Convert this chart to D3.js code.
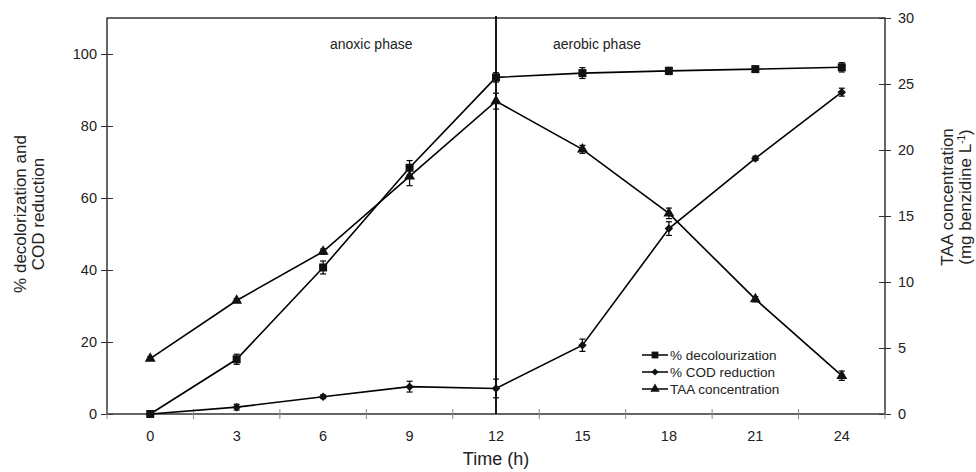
<!DOCTYPE html>
<html><head><meta charset="utf-8">
<script src="https://cdn.jsdelivr.net/npm/d3@7"></script>
<style>
html,body{margin:0;padding:0;background:#fff;}
svg{display:block;font-family:"Liberation Sans",Arial,Helvetica,sans-serif;}
</style></head>
<body><svg id="c" width="976" height="472"></svg>
<script>
const times = [0, 3, 6, 9, 12, 15, 18, 21, 24];
const decol = [0, 15.2, 40.7, 68.4, 93.5, 94.7, 95.3, 95.8, 96.3];
const decolErr = [0, 1.4, 1.8, 2.0, 1.3, 1.5, 1.0, 0.8, 1.3];
const cod = [0, 1.9, 4.8, 7.6, 7.1, 19.1, 51.5, 71.0, 89.4];
const codErr = [0, 0.8, 0.5, 1.5, 2.6, 1.7, 1.9, 0.6, 1.1];
const taa = [4.2, 8.6, 12.3, 18.0, 23.7, 20.05, 15.2, 8.7, 2.9];
const taaErr = [0.15, 0.15, 0.2, 0.7, 0.6, 0.3, 0.4, 0.2, 0.35];
const leftTicks = [0, 20, 40, 60, 80, 100];
const rightTicks = [0, 5, 10, 15, 20, 25, 30];
const seriesNames = ["% decolourization", "% COD reduction", "TAA concentration"];
const phaseLabels = ["anoxic phase", "aerobic phase"];

const svg = d3.select("#c");
const L = 107, R = 885, T = 18, B = 414;
const x = d3.scaleBand().domain(times).range([L, R]).padding(0);
const yL = d3.scaleLinear().domain([0, 110]).range([B, T]);
const yR = d3.scaleLinear().domain([0, 30]).range([B, T]);
const cx = t => x(t) + x.bandwidth() / 2;

// frame
svg.append("rect").attr("x", L).attr("y", T).attr("width", R - L).attr("height", B - T)
  .attr("fill", "none").attr("stroke", "#000").attr("stroke-width", 1.2);

// left axis
const gL = svg.append("g").attr("transform", `translate(${L},0)`)
  .call(d3.axisLeft(yL).tickValues(leftTicks).tickSize(6).tickPadding(5));
gL.select(".domain").remove();
gL.selectAll(".tick line").attr("x2", -6).attr("x1", 6).attr("stroke", "#333");
gL.selectAll(".tick text").attr("font-size", 14.5).attr("fill", "#222")
  .attr("font-family", "Liberation Sans, Arial, sans-serif").attr("x", -10);

// right axis
const gR = svg.append("g").attr("transform", `translate(${R},0)`)
  .call(d3.axisRight(yR).tickValues(rightTicks).tickSize(6).tickPadding(5));
gR.select(".domain").remove();
gR.selectAll(".tick line").attr("x1", -6).attr("x2", 6).attr("stroke", "#333");
gR.selectAll(".tick text").attr("font-size", 14.5).attr("fill", "#222")
  .attr("font-family", "Liberation Sans, Arial, sans-serif").attr("x", 13);

// bottom axis: boundary ticks + centered labels
const bounds = times.map(t => x(t)).concat([x.range()[1]]);
svg.append("g").selectAll("line").data(bounds).join("line")
  .attr("x1", d => d).attr("x2", d => d).attr("y1", B - 5).attr("y2", B + 5)
  .attr("stroke", "#888").attr("stroke-width", 1);
const gB = svg.append("g").attr("transform", `translate(0,${B})`)
  .call(d3.axisBottom(x).tickSize(0).tickPadding(17));
gB.select(".domain").remove();
gB.selectAll(".tick text").attr("font-size", 14.5).attr("fill", "#222")
  .attr("font-family", "Liberation Sans, Arial, sans-serif");

// axis titles
svg.append("text").attr("x", (L + R) / 2).attr("y", 465).attr("text-anchor", "middle")
  .attr("font-size", 18).attr("fill", "#222").text("Time (h)");
const lt = svg.append("text").attr("transform", "translate(0,214) rotate(-90)")
  .attr("text-anchor", "middle").attr("font-size", 17).attr("fill", "#222");
lt.append("tspan").attr("x", 0).attr("y", 26).text("% decolorization and");
lt.append("tspan").attr("x", 0).attr("y", 44).text("COD reduction");
const rt = svg.append("text").attr("transform", "translate(0,197) rotate(-90)")
  .attr("text-anchor", "middle").attr("font-size", 17).attr("fill", "#222");
rt.append("tspan").attr("x", 0).attr("y", 953).text("TAA concentration");
const rt2 = rt.append("tspan").attr("x", 0).attr("y", 971);
rt2.append("tspan").text("(mg benzidine L");
rt2.append("tspan").attr("font-size", 10).attr("dy", -6).text("-1");
rt2.append("tspan").attr("dy", 6).text(")");

// phase divider and labels
svg.append("line").attr("x1", cx(12)).attr("x2", cx(12)).attr("y1", T - 2).attr("y2", B)
  .attr("stroke", "#000").attr("stroke-width", 1.8);
svg.append("text").attr("x", 330).attr("y", 49).attr("font-size", 14).attr("fill", "#222").text(phaseLabels[0]);
svg.append("text").attr("x", 553).attr("y", 49).attr("font-size", 14).attr("fill", "#222").text(phaseLabels[1]);

// series
const sq = d3.symbol().type(d3.symbolSquare).size(64)();
const dia = d3.symbol().type(d3.symbolSquare).size(36)();
const tri = d3.symbol().type(d3.symbolTriangle).size(52)();
const series = [
  {vals: decol, err: decolErr, y: yL, sym: sq, rot: 0},
  {vals: cod, err: codErr, y: yL, sym: dia, rot: 45},
  {vals: taa, err: taaErr, y: yR, sym: tri, rot: 0}
];
const line = d3.line();
series.forEach(s => {
  const pts = times.map((t, i) => [cx(t), s.y(s.vals[i])]);
  svg.append("path").attr("d", line(pts)).attr("fill", "none")
    .attr("stroke", "#000").attr("stroke-width", 1.6);
  const g = svg.append("g");
  times.forEach((t, i) => {
    if (s.err[i] > 0) {
      const y1 = s.y(s.vals[i] + s.err[i]), y2 = s.y(s.vals[i] - s.err[i]);
      const px = cx(t);
      g.append("line").attr("x1", px).attr("x2", px).attr("y1", y1).attr("y2", y2).attr("stroke", "#000").attr("stroke-width", 1.2);
      g.append("line").attr("x1", px - 3).attr("x2", px + 3).attr("y1", y1).attr("y2", y1).attr("stroke", "#000").attr("stroke-width", 1.2);
      g.append("line").attr("x1", px - 3).attr("x2", px + 3).attr("y1", y2).attr("y2", y2).attr("stroke", "#000").attr("stroke-width", 1.2);
    }
    g.append("path").attr("d", s.sym).attr("fill", "#111")
      .attr("transform", `translate(${cx(t)},${s.y(s.vals[i])}) rotate(${s.rot})`);
  });
});

// legend
const leg = svg.append("g");
seriesNames.forEach((n, i) => {
  const yy = 355 + i * 17;
  leg.append("line").attr("x1", 642).attr("x2", 668).attr("y1", yy).attr("y2", yy).attr("stroke", "#000").attr("stroke-width", 1.5);
  leg.append("path").attr("d", series[i].sym).attr("fill", "#111")
    .attr("transform", `translate(655,${yy}) rotate(${series[i].rot}) scale(0.85)`);
  leg.append("text").attr("x", 670).attr("y", yy + 5).attr("font-size", 13.5).attr("fill", "#222").text(n);
});
</script></body></html>
